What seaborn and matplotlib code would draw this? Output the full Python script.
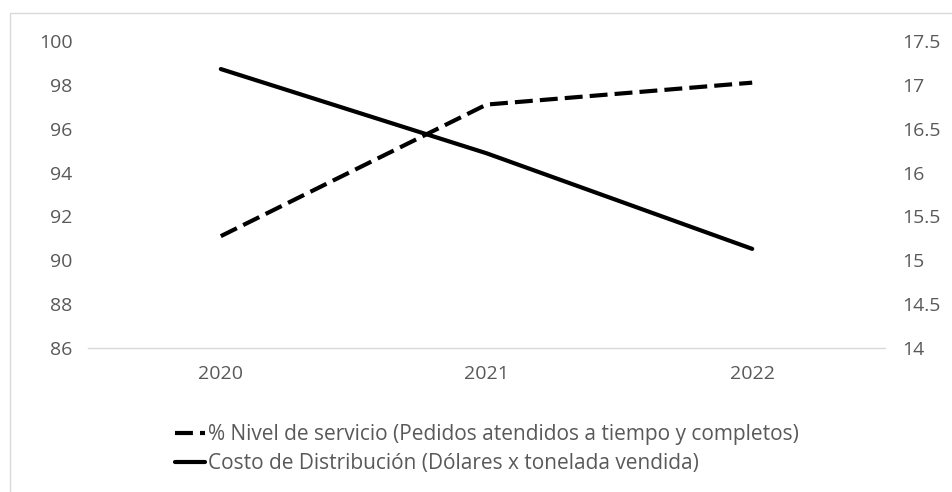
import numpy as np
import pandas as pd
import matplotlib
matplotlib.use("Agg")
import matplotlib.pyplot as plt
import seaborn as sns
from matplotlib.patches import Rectangle
from matplotlib.lines import Line2D

# Data
years = ["2020", "2021", "2022"]
nivel_servicio = [91.1, 97.1, 98.1]      # left axis (%)
costo_distribucion = [17.18, 16.22, 15.13]  # right axis (USD / ton)

label_nivel = "% Nivel de servicio (Pedidos atendidos a tiempo y completos)"
label_costo = "Costo de Distribución (Dólares x tonelada vendida)"

df = pd.DataFrame({"pos": np.arange(len(years)),
                   "nivel": nivel_servicio,
                   "costo": costo_distribucion})

sns.set_style("white")
plt.rcParams["font.family"] = ["Open Sans", "DejaVu Sans"]
txt = "#595959"
fs = 14

fig = plt.figure(figsize=(9.53, 4.92), dpi=100)
ax = fig.add_axes([0.0923, 0.2927, 0.8364, 0.624])
ax2 = ax.twinx()

sns.lineplot(data=df, x="pos", y="nivel", ax=ax, color="black", linewidth=3)
ax.lines[0].set_dashes((4.3, 1.7))
ax.lines[0].set_dash_capstyle("butt")
sns.lineplot(data=df, x="pos", y="costo", ax=ax2, color="black", linewidth=3)

ax.set_xlim(-0.5, 2.5)
ax.set_ylim(86, 100)
ax.set_yticks(np.arange(86, 101, 2))
ax2.set_ylim(14, 17.5)
ax2.set_yticks(np.arange(14, 17.6, 0.5))
ax2.set_yticklabels([f"{v:g}" for v in np.arange(14, 17.6, 0.5)])
ax.set_xticks(df["pos"])
ax.set_xticklabels(years)

for a in (ax, ax2):
    a.set_xlabel("")
    a.set_ylabel("")
    for s in a.spines.values():
        s.set_visible(False)
    a.tick_params(axis="both", length=0, colors=txt, labelsize=fs)
ax.spines["bottom"].set_visible(True)
ax.spines["bottom"].set_color("#d9d9d9")
ax.spines["bottom"].set_linewidth(1)
ax.tick_params(axis="x", pad=12)
ax.tick_params(axis="y", pad=11)
ax2.tick_params(axis="y", pad=12)

handles = [Line2D([], [], color="black", lw=3, dashes=(4.3, 1.7), dash_capstyle="butt"),
           Line2D([], [], color="black", lw=3)]
fig.legend(handles, [label_nivel, label_costo], loc="upper left",
           bbox_to_anchor=(0.175, 0.155), frameon=False, fontsize=15,
           handlelength=1.45, handletextpad=0.15, labelspacing=0.4,
           labelcolor=txt, borderaxespad=0)

# light chart-area border
fig.patches.append(Rectangle((10 / 953, -0.1), 1.2, 1.1 - 13 / 492,
                             transform=fig.transFigure, fill=False,
                             edgecolor="#d9d9d9", linewidth=1))

fig.savefig("out.png", dpi=100, facecolor="white")
